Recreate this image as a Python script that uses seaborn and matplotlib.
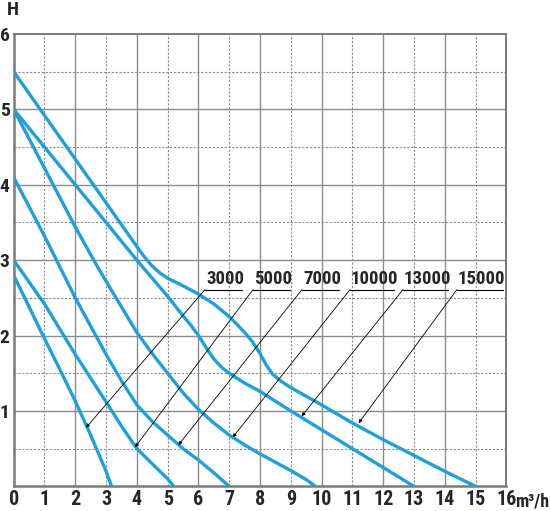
import numpy as np
import pandas as pd
import matplotlib
matplotlib.use("Agg")
import matplotlib.pyplot as plt
import seaborn as sns

# ---- data ----
models = ["3000", "5000", "7000", "10000", "13000", "15000"]

q_3000 = [0, 0.5, 1, 1.5, 2, 2.5, 3, 3.18]
h_3000 = [2.8, 2.38, 1.96, 1.55, 1.13, 0.68, 0.2, 0.0]

q_5000 = [0, 1, 2, 3, 3.5, 4, 4.5, 5, 5.2]
h_5000 = [3.0, 2.42, 1.75, 1.12, 0.8, 0.5, 0.3, 0.1, 0.0]

q_7000 = [0, 1, 2, 3, 3.5, 4, 4.5, 5, 5.5, 6, 6.5, 7]
h_7000 = [4.1, 3.32, 2.5, 1.75, 1.4, 1.08, 0.86, 0.68, 0.5, 0.35, 0.18, 0.0]

q_10000 = [0, 1, 2, 2.6, 3, 3.5, 4, 4.5, 5, 5.5, 6, 6.5, 7, 7.5, 8, 8.5, 9, 9.5, 9.8]
h_10000 = [5.0, 4.22, 3.44, 3.0, 2.72, 2.38, 2.04, 1.76, 1.5, 1.24, 1.02, 0.84, 0.68, 0.55, 0.43, 0.32, 0.21, 0.09, 0.0]

q_13000 = [0, 1, 2, 3, 4, 5, 5.5, 5.75, 6, 6.25, 6.5, 6.75, 7, 7.5, 8, 9, 10, 11, 12, 13]
h_13000 = [5.0, 4.5, 4.0, 3.5, 3.0, 2.52, 2.26, 2.14, 2.0, 1.84, 1.69, 1.58, 1.5, 1.37, 1.26, 1.0, 0.75, 0.5, 0.25, 0.0]

q_15000 = [0, 1, 2, 3, 4, 4.25, 4.5, 4.75, 5, 5.5, 6, 6.5, 7, 7.25, 7.5, 7.75, 8.0, 8.2, 8.4, 8.7, 9, 10, 11, 12, 13, 14, 15]
h_15000 = [5.5, 4.92, 4.34, 3.76, 3.18, 3.04, 2.92, 2.83, 2.76, 2.66, 2.55, 2.42, 2.25, 2.15, 2.04, 1.92, 1.76, 1.61, 1.49, 1.39, 1.31, 1.08, 0.84, 0.62, 0.41, 0.2, 0.0]

# arrow tips (on each curve) and label anchors
tip_q = [2.35, 3.94, 5.35, 7.11, 9.35, 11.2]
tip_h = [0.78, 0.52, 0.55, 0.65, 0.93, 0.84]
label_q = [6.21, 7.77, 9.36, 10.92, 12.64, 14.39]
label_w = [1.2, 1.2, 1.2, 1.43, 1.45, 1.5]
label_h = 2.61

x_ticks = list(range(0, 17))
y_ticks = list(range(1, 7))

curves = {
    "3000": (q_3000, h_3000), "5000": (q_5000, h_5000), "7000": (q_7000, h_7000),
    "10000": (q_10000, h_10000), "13000": (q_13000, h_13000), "15000": (q_15000, h_15000),
}
rows = []
for m in models:
    qs, hs = curves[m]
    for q, h in zip(qs, hs):
        rows.append({"model": m, "Q": q, "H": h})
df = pd.DataFrame(rows)

sns.set_style("white")
FONT = ["Roboto Condensed", "Liberation Sans Narrow", "Roboto", "DejaVu Sans"]
plt.rcParams["font.family"] = FONT

fig = plt.figure(figsize=(5.5, 5.11), dpi=100)
ax = fig.add_axes([0.0249, 0.0481, 0.8960, 0.8854])

LINE = "#1fa0d8"
sns.lineplot(data=df, x="Q", y="H", hue="model", palette=[LINE] * len(models),
             sort=False, estimator=None, legend=False, lw=2.4, ax=ax, zorder=3)
for ln in ax.lines:
    ln.set_solid_joinstyle("round")
    ln.set_solid_capstyle("butt")

ax.set_xlim(0, 16)
ax.set_ylim(0, 6)

GRID = "#8c8c8c"
for i in range(1, 16):
    if i % 2 == 0:
        ax.axvline(i, color=GRID, lw=1.0, zorder=1)
    else:
        ax.axvline(i, color=GRID, lw=0.8, ls=(0, (2, 1.5)), zorder=1)
for j in range(1, 12):
    v = j / 2
    if j % 2 == 0:
        ax.axhline(v, color=GRID, lw=1.0, zorder=1)
    else:
        ax.axhline(v, color=GRID, lw=0.8, ls=(0, (2, 1.5)), zorder=1)

for s in ax.spines.values():
    s.set_visible(True)
    s.set_color("#7a7a7a")
    s.set_linewidth(1.4)
ax.spines["left"].set_linewidth(1.8)
ax.spines["bottom"].set_linewidth(1.8)

ax.set_xticks(x_ticks)
ax.set_xticklabels([str(t) for t in x_ticks], fontsize=14.5, fontweight="bold")
ax.set_yticks(y_ticks)
ax.set_yticklabels([str(t) for t in y_ticks], fontsize=14, fontweight="bold")
ax.tick_params(axis="x", length=0, pad=2.5)
ax.tick_params(axis="y", length=0, pad=3.0)
ax.set_xlabel("")
ax.set_ylabel("")

fig.text(515 / 550, 1 - 501 / 511, "m³/h", ha="left", va="center",
         fontsize=13, fontweight="bold", family=FONT)
fig.text(12.5 / 550, 1 - 10 / 511, "H", ha="center", va="center",
         fontsize=14, fontweight="bold", family=FONT)

for m, tq, th, lq, lw_ in zip(models, tip_q, tip_h, label_q, label_w):
    ax.text(lq + 0.03, label_h + 0.015, m, ha="left", va="bottom",
            fontsize=13.5, fontweight="bold", family=FONT, zorder=5)
    ax.plot([lq, lq + lw_], [label_h, label_h], color="black", lw=0.8, zorder=5)
    ax.annotate("", xy=(tq, th), xytext=(lq, label_h),
                arrowprops=dict(arrowstyle="-|>", color="black", lw=0.6,
                                mutation_scale=5, shrinkA=0, shrinkB=0),
                zorder=5)

fig.savefig("out.png", dpi=100)
